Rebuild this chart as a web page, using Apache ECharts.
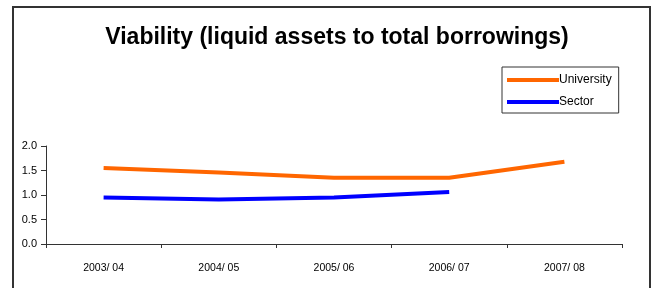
<!DOCTYPE html>
<html>
<head>
<meta charset="utf-8">
<script src="https://cdn.jsdelivr.net/npm/echarts@6/dist/echarts.min.js"></script>
<style>
  html, body { margin: 0; padding: 0; background: #fff; }
  #main { width: 656px; height: 288px; }
</style>
</head>
<body>
<div id="main"></div>
<script>
const years = ['2003/ 04', '2004/ 05', '2005/ 06', '2006/ 07', '2007/ 08'];
const university = [1.55, 1.46, 1.35, 1.35, 1.68];
const sector = [0.95, 0.91, 0.95, 1.06, null];

const myChart = echarts.init(document.getElementById('main'), null, { renderer: 'canvas' });

const option = {
	animation: false,
	backgroundColor: '#fff',
	textStyle: { fontFamily: 'Liberation Sans, Arial, sans-serif' },
	title: {
		text: 'Viability (liquid assets to total borrowings)',
		left: 332,
		textAlign: 'center',
		top: 21,
		textStyle: { fontSize: 23, fontWeight: 'bold', color: '#000', fontFamily: 'Liberation Sans, Arial, sans-serif' }
	},
	// chart frame
	graphic: [
		{
			type: 'rect',
			shape: { x: 13, y: 7, width: 637, height: 300 },
			style: { fill: 'none', stroke: '#333', lineWidth: 2 },
			silent: true
		}
	],
	legend: {
		orient: 'vertical',
		left: 502,
		top: 67,
		padding: [7, 7, 5, 5],
		itemGap: 10,
		itemWidth: 52,
		itemHeight: 4,
		icon: 'rect',
		borderColor: '#333',
		borderWidth: 1,
		textStyle: { fontSize: 12, color: '#000', padding: [0, 0, 0, -5] },
		data: ['University', 'Sector']
	},
	grid: { left: 46, right: 34, top: 146, bottom: 44 },
	xAxis: {
		type: 'category',
		data: years,
		boundaryGap: true,
		axisLine: { lineStyle: { color: '#333', width: 1 } },
		axisTick: { show: true, length: 4, inside: false, lineStyle: { color: '#333' } },
		axisLabel: { fontSize: 10.5, color: '#000', margin: 19 },
		splitLine: { show: false }
	},
	yAxis: {
		type: 'value',
		min: 0,
		max: 2,
		interval: 0.5,
		axisLine: { show: true, lineStyle: { color: '#333', width: 1 } },
		axisTick: { show: true, length: 5, lineStyle: { color: '#333' } },
		axisLabel: { fontSize: 11, color: '#000', margin: 9, formatter: v => v.toFixed(1) },
		splitLine: { show: false }
	},
	series: [
		{
			name: 'University',
			type: 'line',
			data: university,
			symbol: 'none',
			color: '#FF6600',
			lineStyle: { width: 4, color: '#FF6600' }
		},
		{
			name: 'Sector',
			type: 'line',
			data: sector,
			symbol: 'none',
			color: '#0000FF',
			lineStyle: { width: 4, color: '#0000FF' }
		}
	]
};
myChart.setOption(option);
</script>
</body>
</html>
